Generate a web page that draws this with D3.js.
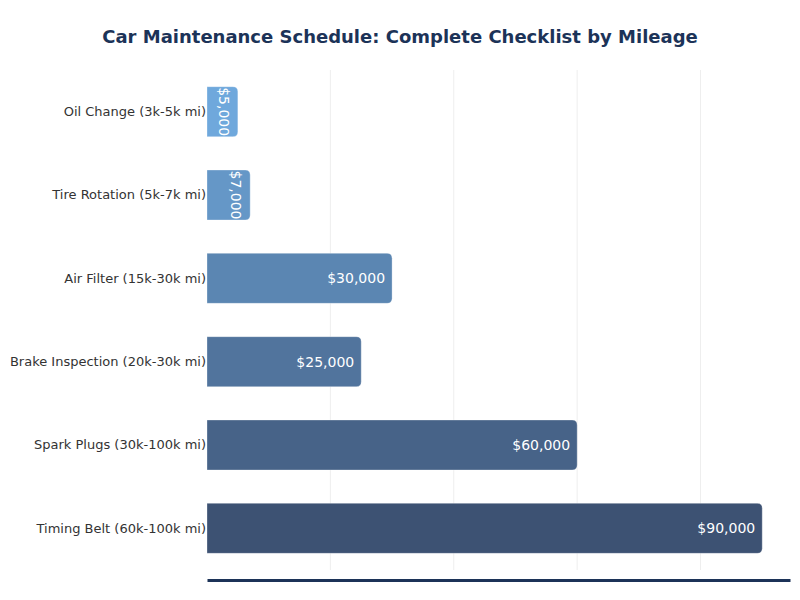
<!DOCTYPE html>
<html>
<head>
<meta charset="utf-8">
<script src="https://cdn.jsdelivr.net/npm/d3@7"></script>
<style>
  body { margin: 0; background: #fff; }
  svg { font-family: "DejaVu Sans", sans-serif; }
</style>
</head>
<body>
<div id="chart"></div>
<script>
// data
const services = [
  "Oil Change (3k-5k mi)",
  "Tire Rotation (5k-7k mi)",
  "Air Filter (15k-30k mi)",
  "Brake Inspection (20k-30k mi)",
  "Spark Plugs (30k-100k mi)",
  "Timing Belt (60k-100k mi)"
];
const costs = [5000, 7000, 30000, 25000, 60000, 90000];
const gridTicks = [20000, 40000, 60000, 80000];

const width = 800, height = 600;
const margin = {top: 70, right: 10, bottom: 30, left: 207};
const innerW = width - margin.left - margin.right;
const innerH = height - margin.top - margin.bottom;

const svg = d3.select("#chart").append("svg")
  .attr("width", width)
  .attr("height", height);

svg.append("text")
  .attr("x", width / 2)
  .attr("y", 43)
  .attr("text-anchor", "middle")
  .style("font-size", "18px")
  .style("font-weight", "bold")
  .style("fill", "#1c3358")
  .text("Car Maintenance Schedule: Complete Checklist by Mileage");

const g = svg.append("g").attr("transform", `translate(${margin.left},${margin.top})`);

const x = d3.scaleLinear().domain([0, d3.max(costs) * 1.05]).range([0, innerW]);
const y = d3.scaleBand().domain(services).range([0, innerH]).paddingInner(0.4).paddingOuter(0.2);
const color = d3.scaleLinear().domain([0, services.length - 1])
  .range(["#6fa8dc", "#3d5273"]).interpolate(d3.interpolateRgb);

// grid
g.selectAll(".grid")
  .data(gridTicks)
  .enter().append("line")
  .attr("class", "grid")
  .attr("x1", d => x(d)).attr("x2", d => x(d))
  .attr("y1", 0).attr("y2", innerH)
  .style("stroke", "#eeeeee")
  .style("stroke-width", 1);

// bottom axis line only
g.append("g")
  .attr("transform", `translate(0,${innerH + 10})`)
  .call(d3.axisBottom(x).tickValues([]).tickSizeOuter(0))
  .call(a => a.select(".domain").style("stroke", "#1c3358").style("stroke-width", 3));

// category labels
g.append("g")
  .call(d3.axisLeft(y).tickSize(0).tickPadding(1))
  .call(a => a.select(".domain").remove())
  .selectAll("text")
  .style("font-size", "13px")
  .style("fill", "#333")
  .style("font-family", "DejaVu Sans, sans-serif");

const r = 5;
let barPath = (w, h) => {
  const rr = Math.min(r, w / 2, h / 2);
  return `M0,0 H${w - rr} Q${w},0 ${w},${rr} V${h - rr} Q${w},${h} ${w - rr},${h} H0 Z`;
};

const bars = g.selectAll(".bar")
  .data(services)
  .enter().append("g")
  .attr("class", "bar")
  .attr("transform", d => `translate(0,${y(d)})`);

bars.append("path")
  .attr("d", (d, i) => barPath(x(costs[i]), y.bandwidth()))
  .style("fill", (d, i) => color(i))
  .style("stroke", "#ffffff")
  .style("stroke-opacity", 0.3)
  .style("stroke-width", 1);

bars.append("text")
  .each(function(d, i) {
    const w = x(costs[i]);
    const t = d3.select(this);
    if (w < 60) {
      t.attr("transform", `translate(${w - 14},${y.bandwidth() / 2}) rotate(90)`)
        .attr("text-anchor", "middle")
        .attr("dy", "0.35em");
    } else {
      t.attr("x", w - 7)
        .attr("y", y.bandwidth() / 2)
        .attr("dy", "0.35em")
        .attr("text-anchor", "end");
    }
  })
  .style("fill", "#fff")
  .style("font-size", "14px")
  .text((d, i) => "$" + d3.format(",")(costs[i]));
</script>
</body>
</html>
